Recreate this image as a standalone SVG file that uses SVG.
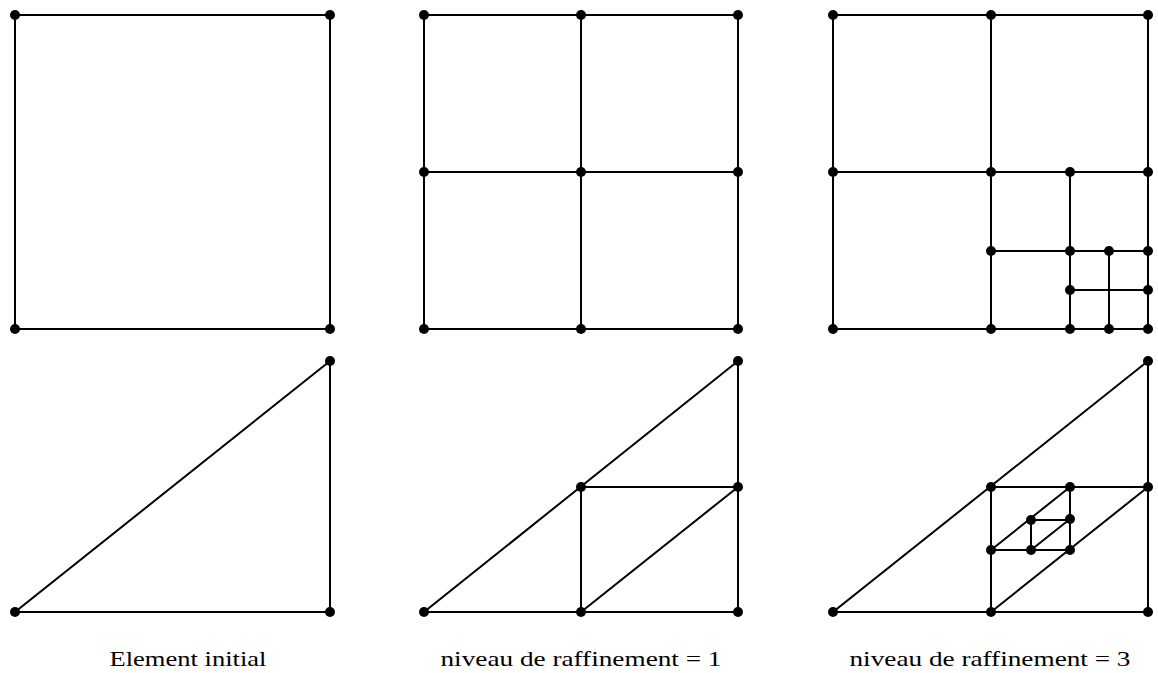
<svg xmlns="http://www.w3.org/2000/svg" width="1158" height="673" viewBox="0 0 1158 673">
<style>
.e{stroke:#000;stroke-width:2;fill:none;stroke-linecap:round}
.n{fill:#000}
.t{font-family:"Liberation Serif","DejaVu Serif",serif;font-size:21px;fill:#000;text-anchor:middle}
</style>
<defs><circle id="d" r="5"/></defs>
<rect width="1158" height="673" fill="#fff"/>
<g id="connectors" class="e">
<path d="M15 15H330V329H15Z"/>
<path d="M15 612H330V361Z"/>
<path d="M424 15H738V329H424Z M581 15V329 M424 172H738"/>
<path d="M424 612H738V361Z M581 487H738 M581 487V612 M581 612L738 487"/>
<path d="M833 15H1148V329H833Z M991 15V329 M833 172H1148 M1070 172V329 M991 251H1148 M1109 251V329 M1070 290H1148"/>
<path d="M833 612H1148V361Z M991 487H1148 M991 487V612 M991 612L1148 487 M991 550L1070 487 M991 550H1070 M1070 487V550 M1031 520H1070 M1031 520V550 M1031 550L1070 519"/>
</g>
<g id="nodes" class="n">
<use href="#d" x="15" y="15"/><use href="#d" x="330" y="15"/><use href="#d" x="15" y="329"/><use href="#d" x="330" y="329"/>
<use href="#d" x="15" y="612"/><use href="#d" x="330" y="612"/><use href="#d" x="330" y="361"/>
<use href="#d" x="424" y="15"/><use href="#d" x="581" y="15"/><use href="#d" x="738" y="15"/>
<use href="#d" x="424" y="172"/><use href="#d" x="581" y="172"/><use href="#d" x="738" y="172"/>
<use href="#d" x="424" y="329"/><use href="#d" x="581" y="329"/><use href="#d" x="738" y="329"/>
<use href="#d" x="424" y="612"/><use href="#d" x="581" y="612"/><use href="#d" x="738" y="612"/>
<use href="#d" x="738" y="361"/><use href="#d" x="581" y="487"/><use href="#d" x="738" y="487"/>
<use href="#d" x="833" y="15"/><use href="#d" x="991" y="15"/><use href="#d" x="1148" y="15"/>
<use href="#d" x="833" y="172"/><use href="#d" x="991" y="172"/><use href="#d" x="1070" y="172"/><use href="#d" x="1148" y="172"/>
<use href="#d" x="991" y="251"/><use href="#d" x="1070" y="251"/><use href="#d" x="1109" y="251"/><use href="#d" x="1148" y="251"/>
<use href="#d" x="1070" y="290"/><use href="#d" x="1148" y="290"/>
<use href="#d" x="833" y="329"/><use href="#d" x="991" y="329"/><use href="#d" x="1070" y="329"/><use href="#d" x="1109" y="329"/><use href="#d" x="1148" y="329"/>
<use href="#d" x="833" y="612"/><use href="#d" x="991" y="612"/><use href="#d" x="1148" y="612"/><use href="#d" x="1148" y="361"/>
<use href="#d" x="991" y="487"/><use href="#d" x="1070" y="487"/><use href="#d" x="1148" y="487"/>
<use href="#d" x="1031" y="520"/><use href="#d" x="1070" y="519"/>
<use href="#d" x="991" y="550"/><use href="#d" x="1031" y="550"/><use href="#d" x="1070" y="550"/>
</g>
<g id="labels" class="t">
<text x="188" y="666" textLength="157" lengthAdjust="spacingAndGlyphs">Element initial</text>
<text x="581" y="666" textLength="281" lengthAdjust="spacingAndGlyphs">niveau de raffinement = 1</text>
<text x="990" y="666" textLength="281" lengthAdjust="spacingAndGlyphs">niveau de raffinement = 3</text>
</g>
</svg>
